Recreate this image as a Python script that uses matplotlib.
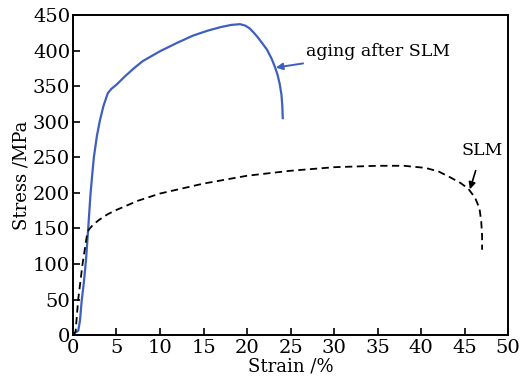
import numpy as np
import matplotlib
matplotlib.use("Agg")
import matplotlib.pyplot as plt

# aging after SLM (blue solid)
aged_strain = [0, 0.3, 0.6, 0.8, 1.0, 1.25, 1.5, 1.75, 2.0, 2.2, 2.4, 2.75, 3.1, 3.5, 4.0, 4.4,
               5.0, 6.0, 7.0, 8.0, 10.0, 12.0, 13.8, 15.5, 17.0, 18.2, 19.2, 19.8, 20.3,
               20.7, 21.2, 21.7, 22.3, 22.8, 23.2, 23.5, 23.75, 23.95, 24.05, 24.1]
aged_stress = [0, 4, 6, 20, 48, 74, 106, 150, 196, 224, 250, 280, 302, 322, 340, 346,
               352, 364, 375, 385, 399, 411, 421, 428, 433, 436, 437, 435, 431,
               426, 419, 411, 401, 389, 377, 366, 353, 338, 322, 305]

# as-built SLM (black dashed)
slm_strain = [0, 0.3, 0.6, 0.85, 1.1, 1.35, 1.6, 1.8, 2.3, 3.0, 4.0, 5.0, 7.5, 10.0, 12.5,
              15.0, 20.0, 25.0, 30.0, 35.0, 38.0, 40.5, 42.0, 43.3, 44.5, 45.4, 46.2,
              46.7, 46.9, 47.0, 47.0]
slm_stress = [0, 5, 50, 75, 100, 120, 140, 148, 155, 162, 170, 176, 189, 199, 206,
              213, 224, 231, 236, 238, 238, 235, 230, 222, 214, 206, 193,
              178, 160, 140, 120]

plt.rcParams['font.family'] = ['DejaVu Serif']

fig, ax = plt.subplots(figsize=(5.25, 3.83), dpi=100)
fig.subplots_adjust(left=0.139, right=0.968, top=0.961, bottom=0.125)

ax.plot(aged_strain, aged_stress, color='#3f5fc0', lw=1.6)
ax.plot(slm_strain, slm_stress, color='black', lw=1.3, ls=(0, (4, 2.5)))

ax.set_xlim(0, 50)
ax.set_ylim(0, 450)
ax.set_xticks(np.arange(0, 51, 5))
ax.set_yticks(np.arange(0, 451, 50))
ax.tick_params(direction='in', length=5, width=1.2, labelsize=14, pad=2)
ax.tick_params(axis='x', pad=3)
for s in ax.spines.values():
    s.set_linewidth(1.4)

ax.set_xlabel('Strain /%', fontsize=13, labelpad=0)
ax.set_ylabel('Stress /MPa', fontsize=13, labelpad=2)

ax.annotate('aging after SLM', xy=(23.3, 376), xytext=(26.8, 398),
            fontsize=12.5, va='center', ha='left',
            arrowprops=dict(arrowstyle='-|>', color='#3f5fc0', lw=1.4,
                            mutation_scale=10, shrinkA=1, shrinkB=0))
ax.annotate('SLM', xy=(45.6, 205), xytext=(47.0, 260),
            fontsize=12.5, va='center', ha='center',
            arrowprops=dict(arrowstyle='-|>', color='black', lw=1.2,
                            mutation_scale=10, shrinkA=7, shrinkB=0))

fig.savefig('out.png', dpi=100)
